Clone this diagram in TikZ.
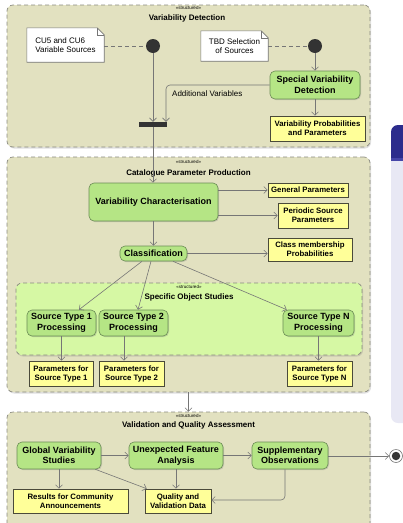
\documentclass[tikz,border=0pt]{standalone}
\usepackage{fontspec}
\setmainfont{Liberation Sans}
\usetikzlibrary{arrows.meta,shadows}

\definecolor{panelfill}{HTML}{E2E1C0}
\definecolor{panelline}{HTML}{8A8A80}
\definecolor{subfill}{HTML}{D6F8A4}
\definecolor{actfill}{HTML}{B5E585}
\definecolor{actline}{HTML}{6B8C55}
\definecolor{objfill}{HTML}{FFFF99}
\definecolor{objline}{HTML}{4A4A3A}
\definecolor{flow}{HTML}{767676}
\definecolor{dot}{HTML}{333333}
\definecolor{sidefill}{HTML}{E8E8F4}
\definecolor{sidehead}{HTML}{2C2C8C}
\definecolor{sideband}{HTML}{4646A8}

\tikzset{
  panel/.style={draw=panelline, dash pattern=on 4pt off 3pt, fill=panelfill,
    rounded corners=6pt, line width=0.7pt, inner sep=0,
    drop shadow={shadow xshift=1pt, shadow yshift=-1.5pt, opacity=0.25}},
  subpanel/.style={panel, fill=subfill},
  action/.style={draw=actline, fill=actfill, rounded corners=5pt, line width=0.6pt,
    inner sep=0, align=center, font=\fontsize{9}{10.5}\selectfont\bfseries,
    drop shadow={shadow xshift=1pt, shadow yshift=-1pt, opacity=0.3}},
  object/.style={draw=objline, fill=objfill, line width=0.6pt, inner sep=0,
    align=center, font=\fontsize{7.8}{9}\selectfont\bfseries,
    drop shadow={shadow xshift=0.8pt, shadow yshift=-0.8pt, opacity=0.25}},
  notebox/.style={inner sep=0, font=\fontsize{8}{9.5}\selectfont},
  noteline/.style={draw=flow, fill=white, line width=0.6pt},
  stereo/.style={font=\fontsize{4.5}{5}\selectfont, inner sep=0},
  ptitle/.style={font=\fontsize{8}{9}\selectfont\bfseries, inner sep=0},
  initial/.style={circle, fill=dot, minimum size=14pt, inner sep=0},
  flowline/.style={draw=flow, line width=0.6pt},
  arr/.style={flowline, -{Straight Barb[length=3.5pt,width=7pt]}},
  anchorline/.style={flowline, dash pattern=on 4pt off 3pt},
}

\begin{document}
\begin{tikzpicture}[x=1pt,y=-1pt]
\useasboundingbox (0,0) rectangle (403,523);

% side panel, partly outside the page
\fill[sidefill, rounded corners=7pt] (391,125) rectangle (440,423);
\begin{scope}
  \clip[rounded corners=7pt] (391,125) rectangle (440,423);
  \fill[sidehead] (391,125) rectangle (440,158);
  \fill[sideband] (391,158) rectangle (440,161);
\end{scope}

% ---------- Variability Detection ----------
\node[panel, minimum width=363pt, minimum height=142pt] (vd) at (188.5,76) {};
\node[stereo] (vdst) at (188.5,8) {«structured»};
\node[ptitle] (vdt) at (187,18) {Variability Detection};

\node[notebox, minimum width=77pt, minimum height=34pt, align=left] (n1) at (65.5,45) {};
\draw[noteline] (n1.south west) -- (n1.north west) -- ([xshift=-7pt]n1.north east)
  -- ([yshift=-7pt]n1.north east) -- (n1.south east) -- cycle;
\draw[flowline] ([xshift=-7pt]n1.north east) -- ([xshift=-7pt,yshift=-7pt]n1.north east)
  -- ([yshift=-7pt]n1.north east);
\node[notebox, align=left] (n1t) at (n1) {CU5 and CU6\\Variable Sources};

\node[notebox, minimum width=67pt, minimum height=30pt] (n2) at (234.5,46) {};
\draw[noteline] (n2.south west) -- (n2.north west) -- ([xshift=-7pt]n2.north east)
  -- ([yshift=-7pt]n2.north east) -- (n2.south east) -- cycle;
\draw[flowline] ([xshift=-7pt]n2.north east) -- ([xshift=-7pt,yshift=-7pt]n2.north east)
  -- ([yshift=-7pt]n2.north east);
\node[notebox, align=center] (n2t) at (n2) {TBD Selection\\of Sources};

\node[initial] (ini1) at (153,46) {};
\node[initial] (ini2) at (315,46) {};

\node[action, minimum width=90pt, minimum height=28pt] (svd) at (315,85)
  {Special Variability\\Detection};
\node[object, minimum width=95pt, minimum height=25pt] (vpp) at (317.5,128.5)
  {Variability Probabilities\\and Parameters};
\node[fill=dot, minimum width=28pt, minimum height=5pt, inner sep=0] (fork) at (153,124.5) {};

% ---------- Catalogue Parameter Production ----------
\node[panel, minimum width=363pt, minimum height=235pt] (cpp) at (188.5,274.5) {};
\node[stereo] (cppst) at (188.5,162) {«structured»};
\node[ptitle] (cppt) at (188.5,173) {Catalogue Parameter Production};

\node[action, minimum width=129pt, minimum height=38pt] (vc) at (153.5,202)
  {Variability Characterisation};
\node[object, minimum width=80pt, minimum height=14pt] (gp) at (308,190) {General Parameters};
\node[object, minimum width=70pt, minimum height=25pt] (psp) at (313,215.5)
  {Periodic Source\\Parameters};
\node[action, minimum width=67pt, minimum height=15pt] (cls) at (153.5,253.5) {Classification};
\node[object, minimum width=84pt, minimum height=23pt] (cmp) at (310,249.5)
  {Class membership\\Probabilities};

\node[subpanel, minimum width=346pt, minimum height=72pt] (sos) at (189,319) {};
\node[stereo] (sosst) at (189,287) {«structured»};
\node[ptitle] (sost) at (189,297) {Specific Object Studies};

\node[action, minimum width=69pt, minimum height=26pt] (st1) at (61.5,323) {Source Type 1\\Processing};
\node[action, minimum width=69pt, minimum height=26pt] (st2) at (133.5,323) {Source Type 2\\Processing};
\node[action, minimum width=71pt, minimum height=26pt] (stn) at (318.5,323) {Source Type N\\Processing};

\node[object, minimum width=64pt, minimum height=25pt] (p1) at (61,373.5) {Parameters for\\Source Type 1};
\node[object, minimum width=65pt, minimum height=25pt] (p2) at (131.5,373.5) {Parameters for\\Source Type 2};
\node[object, minimum width=65pt, minimum height=25pt] (pn) at (319.5,373.5) {Parameters for\\Source Type N};

% ---------- Validation and Quality Assessment ----------
\node[panel, minimum width=363pt, minimum height=124pt] (vqa) at (188.5,474) {};
\node[stereo] (vqast) at (188.5,416) {«structured»};
\node[ptitle] (vqat) at (188.5,425) {Validation and Quality Assessment};

\node[action, minimum width=84pt, minimum height=27pt] (gvs) at (59,455.5) {Global Variability\\Studies};
\node[action, minimum width=94pt, minimum height=27pt] (ufa) at (176,455.5) {Unexpected Feature\\Analysis};
\node[action, minimum width=76pt, minimum height=27pt] (so) at (290,455.5) {Supplementary\\Observations};
\node[object, minimum width=115pt, minimum height=24pt] (rca) at (70.5,501) {Results for Community\\Announcements};
\node[object, minimum width=66pt, minimum height=24pt] (qvd) at (178,501) {Quality and\\Validation Data};

\node[circle, draw=flow, fill=white, line width=0.6pt, minimum size=13pt, inner sep=0] (fin) at (396,456) {};
\node[circle, fill=dot, minimum size=8.5pt, inner sep=0] (fincore) at (fin) {};

% ---------- flows ----------
\draw[anchorline] (n1.east |- ini1) -- (ini1);
\draw[anchorline] (n2.east |- ini2) -- (ini2);
\draw[arr] (ini1) -- (ini1 |- fork.north);
\draw[arr] (ini2) -- (svd.north);
\draw[arr, rounded corners=4pt] (svd.west) -| ([xshift=13pt]fork.north);
\node[notebox, anchor=west] (addv) at (172,94) {Additional Variables};
\draw[arr] (svd.south) -- (svd.south |- vpp.north);

\draw[arr] (fork.south) -- (fork.south |- vc.north);
\draw[arr] (vc.east |- gp.west) -- (gp.west);
\draw[arr] (vc.east |- psp.west) -- (psp.west);
\draw[arr] (vc.south) -- (cls.north);
\draw[arr] (cls.east) -- (cls.east -| cmp.west);

\draw[arr] ([xshift=-11.5pt]cls.south) -- ([xshift=17.5pt]st1.north);
\draw[arr] ([xshift=-2.5pt]cls.south) -- ([xshift=4.5pt]st2.north);
\draw[arr] ([xshift=19.5pt]cls.south) -- ([xshift=4pt]stn.north west);

\draw[arr] (st1.south) -- (st1.south |- p1.north);
\draw[arr] ([xshift=-9.5pt]st2.south) -- ([xshift=-9.5pt]st2.south |- p2.north);
\draw[arr] (stn.south) -- (stn.south |- pn.north);

\draw[arr] (cpp.south) -- (vqa.north);

\draw[arr] (gvs.east) -- (ufa.west);
\draw[arr] (ufa.east) -- (so.west);
\draw[arr] (so.east |- fin) -- (fin.west);
\draw[arr] (gvs.south) -- (gvs.south |- rca.north);
\draw[arr] ([xshift=-6pt]gvs.south east) -- ([xshift=2pt]qvd.north west);
\draw[arr] (ufa.south) -- (ufa.south |- qvd.north);
\draw[arr, rounded corners=4pt] ([xshift=-5pt]so.south) |- ([yshift=1pt]qvd.east);
\end{tikzpicture}
\end{document}
